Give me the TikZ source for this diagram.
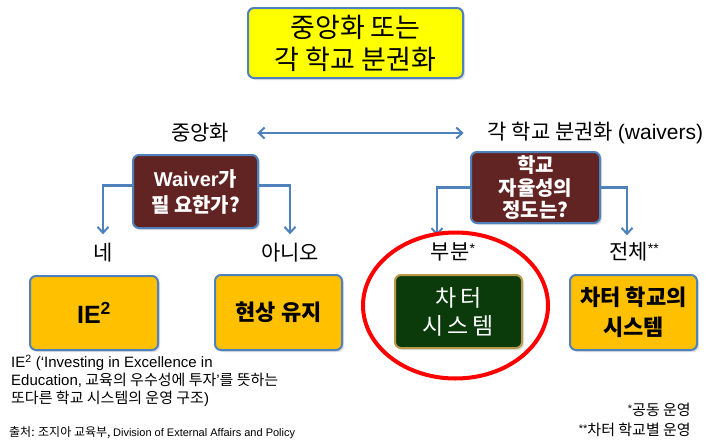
\documentclass[tikz,border=0pt]{standalone}
\usepackage{fontspec}
\setmainfont{Noto Sans CJK KR}
\newfontfamily\lat{Liberation Sans}
\usetikzlibrary{arrows.meta,shadows}
\definecolor{bblue}{HTML}{4F81BD}
\definecolor{maroon}{HTML}{622423}
\definecolor{orng}{HTML}{FFC000}
\definecolor{dgreen}{HTML}{0B3A0B}
\definecolor{gold}{HTML}{B89A48}
\definecolor{ylw}{HTML}{FFFF00}
\newcommand{\stars}[3]{\raisebox{#2}{\lat\fontsize{#1}{#1}\selectfont #3}}
\begin{document}
\begin{tikzpicture}[x=1pt,y=-1pt,
  box/.style={rounded corners=6pt, line width=2pt, draw=bblue, align=center,
    inner sep=0pt, drop shadow={opacity=0.25, shadow xshift=2pt, shadow yshift=-2pt}},
  darkbox/.style={box, fill=maroon, text=white},
  orbox/.style={box, fill=orng, text=black, font=\fontsize{22}{30}\selectfont\bfseries},
  lbl/.style={font=\fontsize{21}{24}\selectfont, inner sep=1pt},
  conn/.style={draw=bblue, line width=2.5pt, -{Straight Barb[length=6pt,width=11pt,line width=2pt]}}
]
\useasboundingbox (0,0) rectangle (723,442);

\node[box, fill=ylw, minimum width=215pt, minimum height=70pt,
  font=\fontsize{27}{32}\selectfont] (title) at (355.5,43) {중앙화 또는\\각 학교 분권화};

\node[lbl] (cen) at (200,133) {중앙화};
\node[lbl] (dec) at (595.5,133) {각 학교 분권화 {\lat (waivers)}};
\draw[draw=bblue, line width=2.5pt, {Straight Barb[length=6pt,width=11pt,line width=2pt]}-{Straight Barb[length=6pt,width=11pt,line width=2pt]}]
  ([xshift=27pt]cen.east) -- ([xshift=-23pt]dec.west);

\node[darkbox, minimum width=125pt, minimum height=73pt,
  font=\fontsize{20}{26}\selectfont\bfseries] (wq) at (195.5,191.5)
  {{\lat Waiver}가\\필 요한가?};
\node[darkbox, minimum width=129pt, minimum height=71pt,
  font=\fontsize{20}{22.5}\selectfont\bfseries] (aq) at (535.5,187.5)
  {학교\\자율성의\\정도는?};

\node[lbl] (ne) at (103,253) {네};
\node[lbl] (no) at (290,253) {아니오};
\node[lbl] (part) at (453,252) {부분\stars{14}{6pt}{*}};
\node[lbl] (full) at (634,252) {전체\stars{14}{6pt}{**}};

\draw[conn, shorten >=8pt] ([yshift=6pt]wq.west) -| (ne.north);
\draw[conn, shorten >=8pt] ([yshift=6pt]wq.east) -| (no.north);
\draw[conn, shorten >=6pt] (aq.west) -| ([xshift=-16pt]part.north);
\draw[conn, shorten >=6pt] (aq.east) -| ([xshift=-7pt]full.north);

\node[orbox, minimum width=128pt, minimum height=74pt] (ie) at (94,313)
  {\lat\fontsize{25}{28}\selectfont IE\textsuperscript{2}};
\node[orbox, minimum width=127pt, minimum height=75pt] (hs) at (278.5,312.5)
  {현상 유지};
\node[box, draw=gold, fill=dgreen, text=white, minimum width=127pt, minimum height=73pt,
  font=\fontsize{23}{28}\selectfont] (ct) at (458.5,311.5) {차\,터\\시\,스\,템};
\node[orbox, minimum width=127pt, minimum height=75pt] (cs) at (633.5,312.5)
  {차터 학교의\\시스템};

\draw[red, line width=4pt] (455.5,305.5) ellipse [x radius=92.5, y radius=73];

\node[anchor=north west, align=left, inner sep=0pt,
  font=\fontsize{15}{18}\selectfont] (note) at (11,355)
  {{\lat IE\textsuperscript{2} (‘Investing in Excellence in}\\
   {\lat Education,} 교육의 우수성에 투자{\lat ’}를 뜻하는\\
   또다른 학교 시스템의 운영 구조{\lat )}};

\node[anchor=west, inner sep=0pt, font=\fontsize{12}{14}\selectfont] (src) at (9,433)
  {출처: 조지아 교육부, {\lat\fontsize{11}{13}\selectfont Division of External Affairs and Policy}};

\node[anchor=east, inner sep=0pt, font=\fontsize{15}{17}\selectfont] (f1) at (691,410)
  {\stars{11}{3pt}{*}공동 운영};
\node[anchor=east, inner sep=0pt, font=\fontsize{15}{17}\selectfont] (f2) at (691,430)
  {\stars{11}{3pt}{**}차터 학교별 운영};
\end{tikzpicture}
\end{document}
